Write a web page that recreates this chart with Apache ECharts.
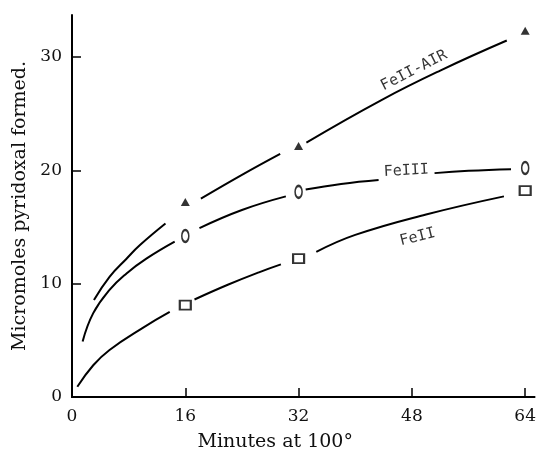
<!DOCTYPE html>
<html>
<head>
<meta charset="utf-8">
<script src="https://cdn.jsdelivr.net/npm/echarts@6/dist/echarts.min.js"></script>
<style>html,body{margin:0;padding:0;background:#fff}#c{width:539px;height:461px}</style>
</head>
<body>
<div id="c"></div>
<script>
// Measured points (minutes, micromoles)
var xTicks = [0, 16, 32, 48, 64];
var yTicks = [0, 10, 20, 30];
var airPoints = [[16, 17.2], [32, 22.15], [64, 32.3]];
var fe3Points = [[16, 14.2], [32, 18.1], [64, 20.2]];
var fe2Points = [[16, 8.1], [32, 12.2], [64, 18.2]];
// Hand-drawn curves ('-' = gap around a marker / label)
var airCurve = [[3.1, 8.55], [5.3, 10.6], [7.7, 12.2], [9.6, 13.4], [13.2, 15.3], [15, '-'],
  [18.2, 17.5], [24, 19.6], [29.4, 21.45], [31, '-'],
  [33.1, 22.45], [43.7, 26.2], [52, 28.8], [61.4, 31.45]];
var fe3Curve = [[1.5, 4.9], [3.0, 7.4], [5.3, 9.45], [7.7, 10.9], [10.5, 12.2], [14.5, 13.7], [16, '-'],
  [18.0, 14.9], [24, 16.5], [30.2, 17.7], [31, '-'],
  [33.0, 18.3], [38, 18.8], [43.3, 19.15], [47, '-'],
  [51.2, 19.75], [56, 19.95], [62.0, 20.1]];
var fe2Curve = [[0.75, 0.9], [3, 2.8], [5.3, 4.15], [10.0, 6.1], [13.8, 7.5], [15, '-'],
  [17.3, 8.6], [22, 9.9], [26.4, 11.0], [29.5, 11.7], [31, '-'],
  [34.5, 12.8], [40.0, 14.3], [50, 16.1], [61.0, 17.7]];
var curveLabels = [
  {name: 'FeII-AIR', value: [48.3, 28.8], rotate: 27},
  {name: 'FeIII', value: [47.2, 19.95], rotate: 3},
  {name: 'FeII', value: [48.8, 14.1], rotate: 14}
];

var chart = echarts.init(document.getElementById('c'), null, {renderer: 'canvas'});
var serif = 'DejaVu Serif';
var lineStyle = {color: '#000', width: 2};
function curve(d) {
  return {type: 'line', data: d, smooth: 0.45, showSymbol: false, symbol: 'none',
    lineStyle: lineStyle, connectNulls: false, silent: true, z: 2};
}
chart.setOption({
  animation: false,
  backgroundColor: '#fff',
  grid: {left: 72, right: 2, top: 15, bottom: 64},
  xAxis: [{
    type: 'value', min: 0, max: 65.3, interval: 16,
    name: 'Minutes at 100°', nameLocation: 'middle', nameGap: 36,
    nameTextStyle: {fontFamily: serif, fontSize: 19, color: '#111', padding: [0, 56, 0, 0]},
    axisLine: {show: true, onZero: false, lineStyle: {color: '#000', width: 2}},
    axisTick: {show: true, inside: true, length: 9, customValues: xTicks, lineStyle: {color: '#000', width: 1.5}},
    axisLabel: {fontFamily: serif, fontSize: 17, color: '#111', margin: 11, customValues: xTicks},
    splitLine: {show: false}
  }, {
    type: 'value', position: 'top', min: 0, max: 65.3,
    axisLine: {show: true, lineStyle: {color: '#000', width: 2}},
    axisTick: {show: false}, axisLabel: {show: false}, splitLine: {show: false}
  }],
  yAxis: {
    type: 'value', min: 0, max: 33.7, interval: 10,
    name: 'Micromoles pyridoxal formed.', nameLocation: 'middle', nameGap: 41,
    nameTextStyle: {fontFamily: serif, fontSize: 19, color: '#111'},
    axisLine: {show: true, lineStyle: {color: '#000', width: 2}},
    axisTick: {show: true, inside: true, length: 9, customValues: yTicks, lineStyle: {color: '#000', width: 1.5}},
    axisLabel: {fontFamily: serif, fontSize: 17, color: '#111', margin: 10, customValues: yTicks},
    splitLine: {show: false}
  },
  series: [
    curve(airCurve), curve(fe3Curve), curve(fe2Curve),
    {type: 'scatter', data: airPoints, symbol: 'triangle', symbolSize: [9, 8],
      itemStyle: {color: '#000'}, z: 3},
    {type: 'scatter', data: fe3Points, symbol: 'emptyCircle', symbolSize: [7, 12],
      itemStyle: {color: '#000', borderColor: '#000', borderWidth: 2}, z: 3},
    {type: 'scatter', data: fe2Points, symbol: 'emptyRect', symbolSize: [11, 9],
      itemStyle: {color: '#000', borderColor: '#000', borderWidth: 2}, z: 3},
    {type: 'scatter', symbolSize: 0, z: 4,
      data: curveLabels.map(function (l) {
        return {name: l.name, value: l.value,
          label: {show: true, position: 'inside', formatter: l.name, rotate: l.rotate,
            fontFamily: 'DejaVu Sans Mono', fontSize: 15, color: '#000'}};
      })}
  ]
});
</script>
</body>
</html>
